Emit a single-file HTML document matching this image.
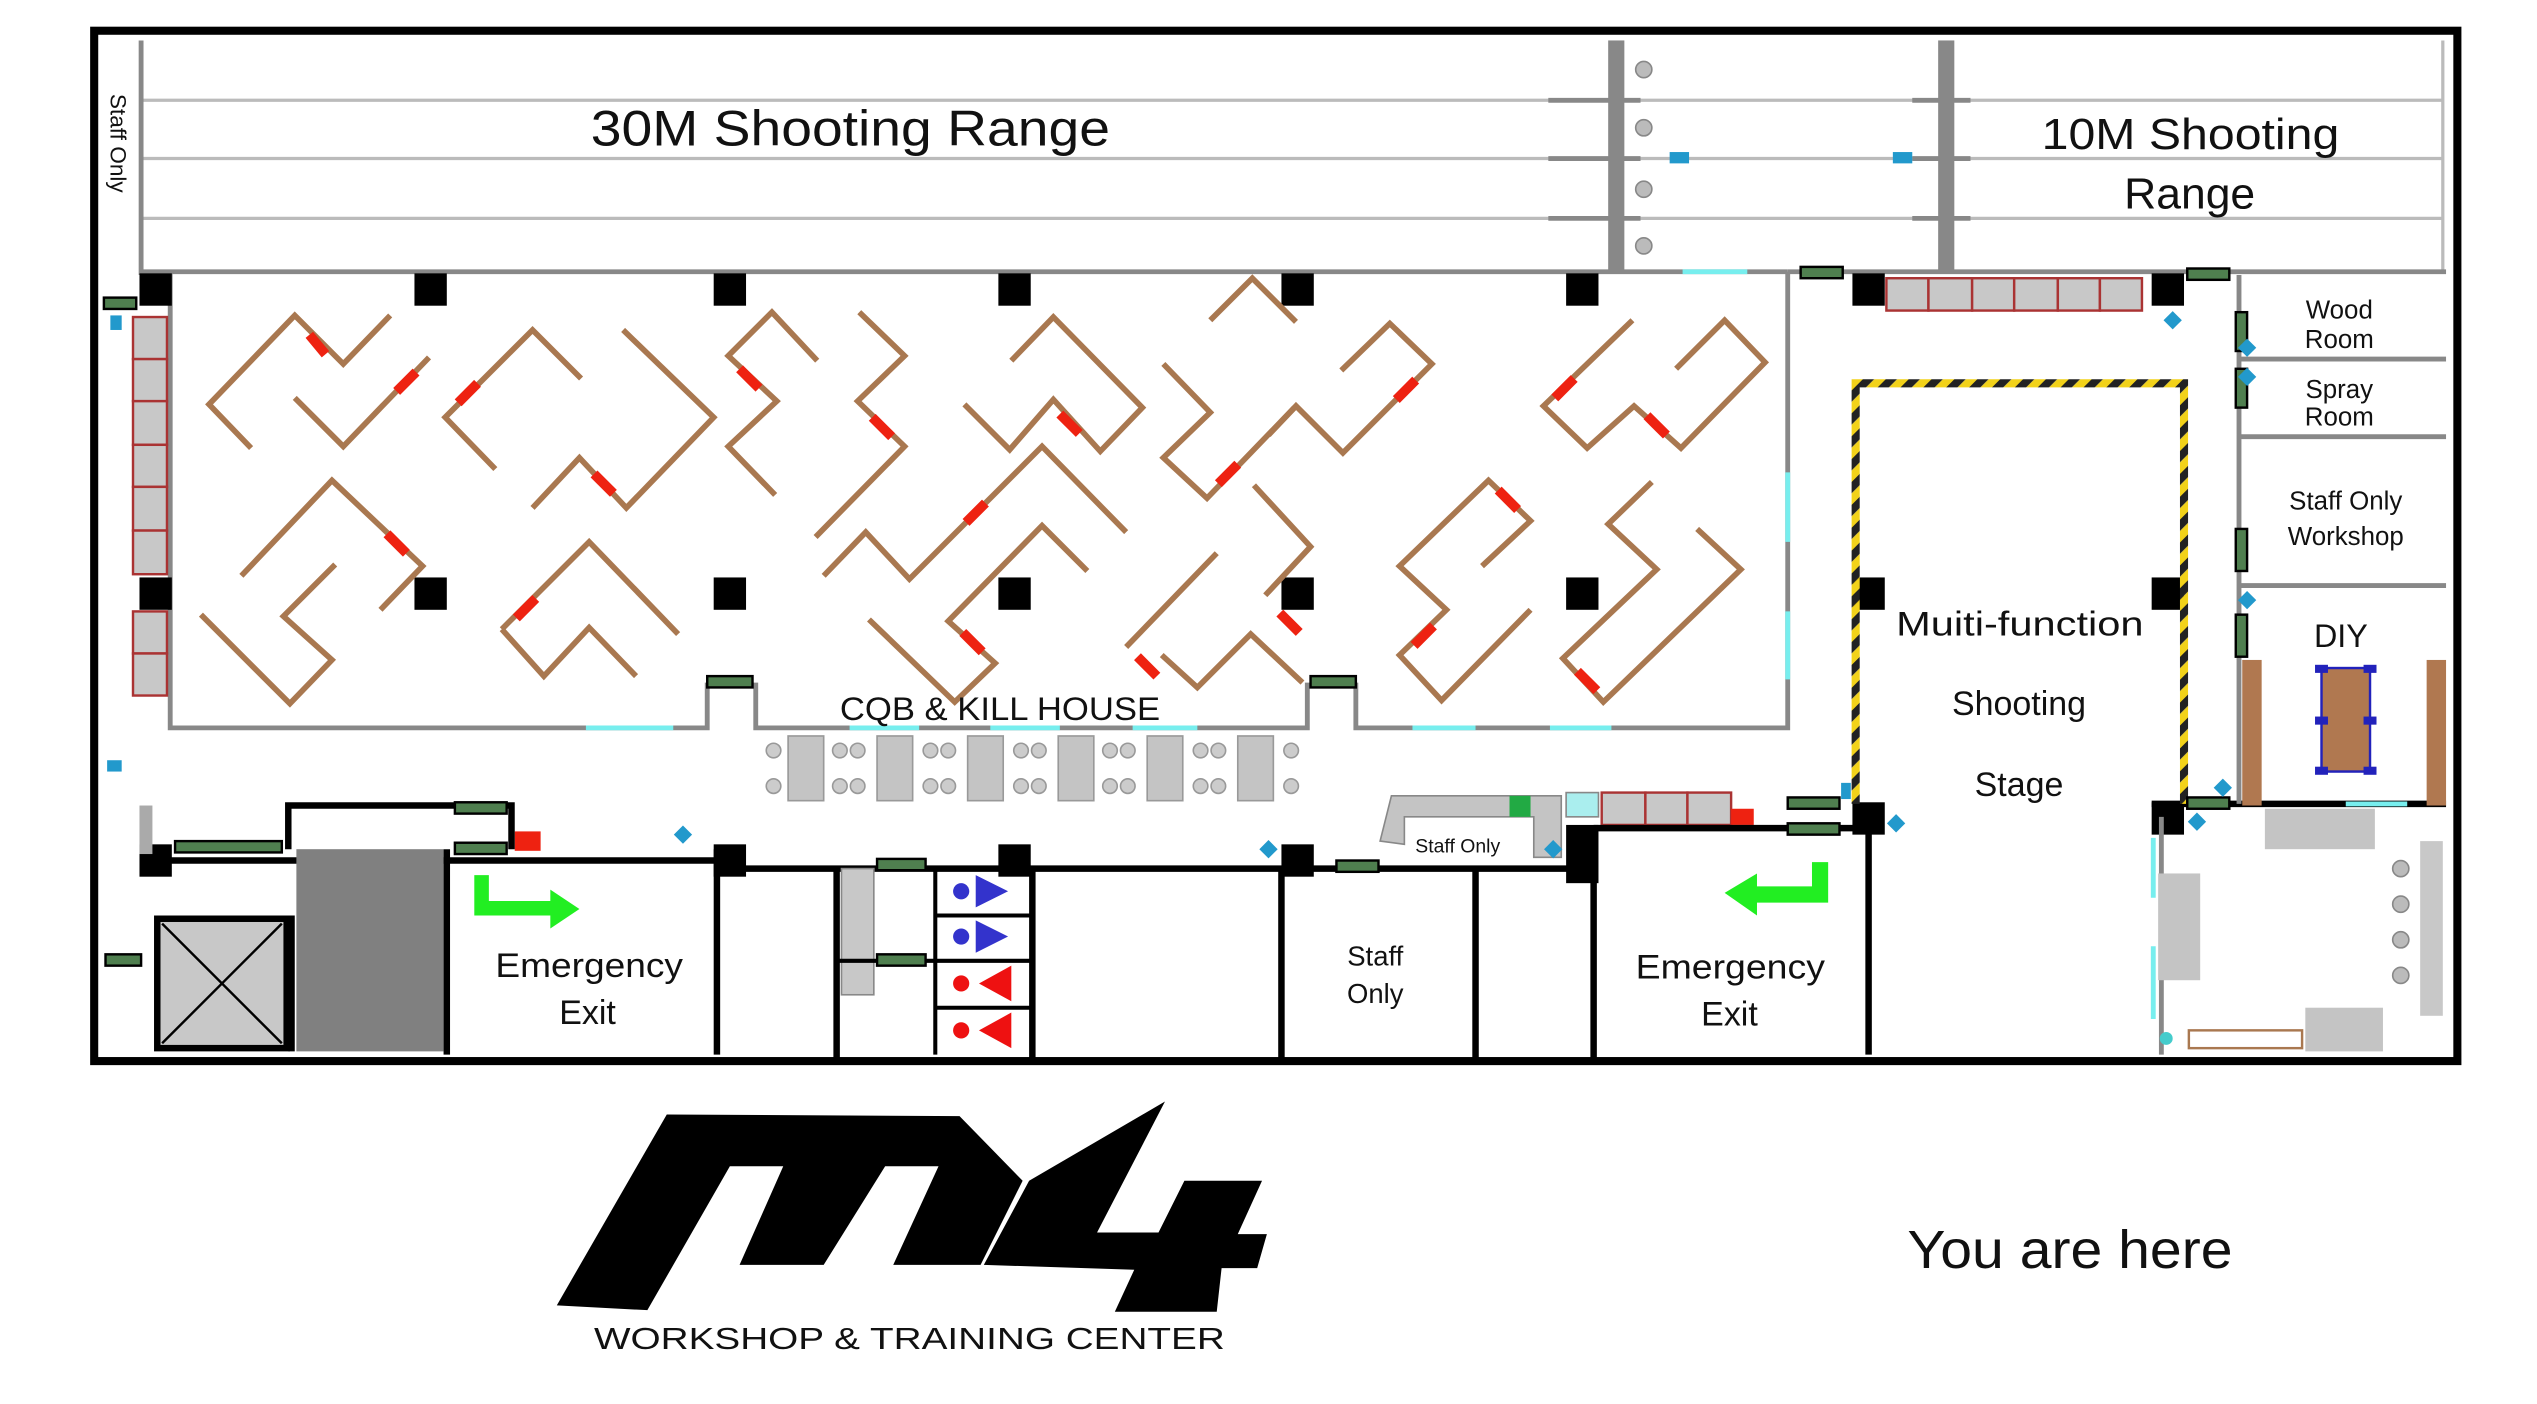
<!DOCTYPE html>
<html><head><meta charset="utf-8"><style>
html,body{margin:0;padding:0;background:#fff;width:2537px;height:1404px;overflow:hidden}
svg{display:block}
text{font-family:"Liberation Sans",sans-serif;fill:#111}
</style></head><body>
<svg width="2537" height="1404" viewBox="0 0 1568 868" xmlns="http://www.w3.org/2000/svg">
<defs>
<pattern id="hz" width="10" height="10" patternUnits="userSpaceOnUse" patternTransform="rotate(45)">
<rect width="5" height="10" fill="#222"/><rect x="5" width="5" height="10" fill="#f2d21a"/></pattern>
</defs>
<rect x="58" y="19" width="1461" height="637" fill="#fff" stroke="#000" stroke-width="5"/>
<g stroke="#bbb" stroke-width="2">
<line x1="87" y1="62" x2="1510" y2="62"/><line x1="87" y1="98" x2="1510" y2="98"/><line x1="87" y1="135" x2="1510" y2="135"/>
</g>
<line x1="87" y1="25" x2="87" y2="170" stroke="#888" stroke-width="3"/>
<line x1="1510" y1="25" x2="1510" y2="168" stroke="#bbb" stroke-width="2"/>
<line x1="87" y1="168" x2="1105" y2="168" stroke="#888" stroke-width="3"/>
<line x1="1105" y1="168" x2="1512" y2="168" stroke="#888" stroke-width="3"/>
<rect x="994" y="25" width="10" height="143" fill="#888"/>
<rect x="1198" y="25" width="10" height="143" fill="#888"/>
<g stroke="#888" stroke-width="3">
<line x1="957" y1="62" x2="1014" y2="62"/><line x1="957" y1="98" x2="1014" y2="98"/><line x1="957" y1="135" x2="1014" y2="135"/>
<line x1="1182" y1="62" x2="1218" y2="62"/><line x1="1182" y1="98" x2="1218" y2="98"/><line x1="1182" y1="135" x2="1218" y2="135"/>
</g>
<g fill="#bbb" stroke="#888"><circle cx="1016" cy="43" r="5"/><circle cx="1016" cy="79" r="5"/><circle cx="1016" cy="117" r="5"/><circle cx="1016" cy="152" r="5"/></g>
<line x1="1040" y1="168" x2="1080" y2="168" stroke="#7ee" stroke-width="3"/>
<text x="365" y="90" font-size="31" textLength="321" lengthAdjust="spacingAndGlyphs">30M Shooting Range</text>
<text x="1262" y="92" font-size="27" textLength="184" lengthAdjust="spacingAndGlyphs">10M Shooting</text>
<text x="1313" y="129" font-size="27" textLength="81" lengthAdjust="spacingAndGlyphs">Range</text>
<text transform="translate(68,58) rotate(90)" font-size="14">Staff Only</text>
<path d="M105 168 V450 H437 V422 M467 422 V450 H808 V422 M838 422 V450 H1105 V168" fill="none" stroke="#888" stroke-width="3"/>
<g stroke="#7ee" stroke-width="3"><line x1="362" y1="450" x2="416" y2="450"/><line x1="525" y1="450" x2="568" y2="450"/><line x1="612" y1="450" x2="655" y2="450"/><line x1="700" y1="450" x2="740" y2="450"/><line x1="873" y1="450" x2="912" y2="450"/><line x1="958" y1="450" x2="996" y2="450"/><line x1="1105" y1="292" x2="1105" y2="335"/><line x1="1105" y1="378" x2="1105" y2="420"/></g>
<g fill="#000">
<rect x="86" y="169" width="20" height="20"/><rect x="256" y="169" width="20" height="20"/><rect x="441" y="169" width="20" height="20"/><rect x="617" y="169" width="20" height="20"/><rect x="792" y="169" width="20" height="20"/><rect x="968" y="169" width="20" height="20"/>
<rect x="86" y="357" width="20" height="20"/><rect x="256" y="357" width="20" height="20"/><rect x="441" y="357" width="20" height="20"/><rect x="617" y="357" width="20" height="20"/><rect x="792" y="357" width="20" height="20"/><rect x="968" y="357" width="20" height="20"/>
<rect x="1145" y="169" width="20" height="20"/><rect x="1330" y="169" width="20" height="20"/>
<rect x="1145" y="357" width="20" height="20"/><rect x="1330" y="357" width="20" height="20"/>
<rect x="1145" y="496" width="20" height="20"/><rect x="1330" y="496" width="20" height="20"/>
<rect x="86" y="522" width="20" height="20"/><rect x="441" y="522" width="20" height="20"/><rect x="617" y="522" width="20" height="20"/><rect x="792" y="522" width="20" height="20"/><rect x="968" y="510" width="20" height="36"/>
</g>
<g fill="none" stroke="#a97850" stroke-width="3.5">
<polyline points="155,277 129,250 182,195 212,225 241,195"/>
<polyline points="182,246 212,276 265,221"/>
<polyline points="306,290 275,258 329,204 359,234"/>
<polyline points="385,204 441,258 387,314 358,283 329,314"/>
<polyline points="505,223 477,193 450,220 480,248 450,276 479,306"/>
<polyline points="531,193 559,220 530,248 559,276 504,332"/>
<polyline points="625,223 651,196 706,252 680,279 651,247 624,278 596,250"/>
<polyline points="509,356 535,329 562,358 644,276 696,329"/>
<polyline points="672,353 644,325 586,384 615,410 590,434 537,383"/>
<polyline points="719,225 748,255 719,283 746,308 800,252"/>
<polyline points="149,356 205,297 261,350 235,377"/>
<polyline points="207,349 175,381 205,408 179,435 124,380"/>
<polyline points="310,389 364,335 419,392"/>
<polyline points="310,389 336,418 364,388 393,418"/>
<polyline points="696,400 752,342"/>
<polyline points="718,405 740,425 773,392 805,422"/>
<polyline points="775,300 810,338 782,368"/>
<polyline points="748,198 774,172 801,199"/>
<polyline points="829,229 859,200 885,225 830,280 801,251 784,269"/>
<polyline points="1009,198 954,251 981,277 1010,251 1039,277 1091,224 1066,198 1036,228"/>
<polyline points="916,350 946,322 920,297 865,350 894,377 865,405 891,433 946,377"/>
<polyline points="1021,298 994,324 1024,352 966,407 991,434 1076,352 1049,327"/>
</g>
<g stroke="#e21" stroke-width="6">
<line x1="191" y1="207" x2="201" y2="219"/><line x1="245" y1="242" x2="257" y2="230"/><line x1="283" y1="249" x2="295" y2="237"/><line x1="367" y1="293" x2="379" y2="305"/><line x1="239" y1="330" x2="251" y2="342"/><line x1="319" y1="382" x2="331" y2="370"/><line x1="457" y1="228" x2="469" y2="240"/><line x1="539" y1="258" x2="551" y2="270"/><line x1="597" y1="323" x2="609" y2="311"/><line x1="595" y1="391" x2="607" y2="403"/><line x1="655" y1="256" x2="667" y2="268"/><line x1="703" y1="406" x2="715" y2="418"/><line x1="753" y1="299" x2="765" y2="287"/><line x1="791" y1="379" x2="803" y2="391"/><line x1="863" y1="247" x2="875" y2="235"/><line x1="961" y1="246" x2="973" y2="234"/><line x1="1018" y1="257" x2="1030" y2="269"/><line x1="926" y1="303" x2="938" y2="315"/><line x1="874" y1="399" x2="886" y2="387"/><line x1="975" y1="415" x2="987" y2="427"/>
</g>
<text x="519" y="445" font-size="20" textLength="198" lengthAdjust="spacingAndGlyphs">CQB &amp; KILL HOUSE</text>
<g fill="#c8c8c8" stroke="#a33" stroke-width="1.5">
<rect x="82" y="196" width="21" height="26"/><rect x="82" y="222" width="21" height="26"/><rect x="82" y="248" width="21" height="27"/><rect x="82" y="275" width="21" height="26"/><rect x="82" y="301" width="21" height="27"/><rect x="82" y="328" width="21" height="27"/>
<rect x="82" y="378" width="21" height="26"/><rect x="82" y="404" width="21" height="26"/>
<rect x="1166" y="172" width="26" height="20"/><rect x="1192" y="172" width="27" height="20"/><rect x="1219" y="172" width="26" height="20"/><rect x="1245" y="172" width="27" height="20"/><rect x="1272" y="172" width="26" height="20"/><rect x="1298" y="172" width="26" height="20"/>
<rect x="990" y="490" width="27" height="20"/><rect x="1017" y="490" width="26" height="20"/><rect x="1043" y="490" width="27" height="20"/>
</g>
<rect x="1070" y="500" width="14" height="10" fill="#e21"/>
<rect x="318" y="514" width="16" height="12" fill="#e21"/>
<g fill="#c4c4c4" stroke="#999">
<rect x="487" y="455" width="22" height="40"/><rect x="542" y="455" width="22" height="40"/><rect x="598" y="455" width="22" height="40"/><rect x="654" y="455" width="22" height="40"/><rect x="709" y="455" width="22" height="40"/><rect x="765" y="455" width="22" height="40"/>
</g>
<g fill="#ccc" stroke="#999">
<circle cx="478" cy="464" r="4.5"/><circle cx="478" cy="486" r="4.5"/><circle cx="519" cy="464" r="4.5"/><circle cx="530" cy="464" r="4.5"/><circle cx="519" cy="486" r="4.5"/><circle cx="530" cy="486" r="4.5"/>
<circle cx="575" cy="464" r="4.5"/><circle cx="586" cy="464" r="4.5"/><circle cx="575" cy="486" r="4.5"/><circle cx="586" cy="486" r="4.5"/>
<circle cx="631" cy="464" r="4.5"/><circle cx="642" cy="464" r="4.5"/><circle cx="631" cy="486" r="4.5"/><circle cx="642" cy="486" r="4.5"/>
<circle cx="686" cy="464" r="4.5"/><circle cx="697" cy="464" r="4.5"/><circle cx="686" cy="486" r="4.5"/><circle cx="697" cy="486" r="4.5"/>
<circle cx="742" cy="464" r="4.5"/><circle cx="753" cy="464" r="4.5"/><circle cx="742" cy="486" r="4.5"/><circle cx="753" cy="486" r="4.5"/>
<circle cx="798" cy="464" r="4.5"/><circle cx="798" cy="486" r="4.5"/>
</g>
<g fill="none" stroke="#000" stroke-width="4">
<path d="M95 532 H443 M443 537 H985"/>
<path d="M178 525 V498 H316 V525"/>
<path d="M97 568 H180 V650"/>
<path d="M276 525 V652 M443 525 V652"/>
<path d="M517 537 V655 M638 537 V655"/>
<path d="M792 537 V655 M912 537 V655"/>
<path d="M985 512 V655 M985 512 H1147 M1155 505 V652"/>
<path d="M1330 497 H1512"/>
</g>
<line x1="1336" y1="505" x2="1336" y2="652" stroke="#888" stroke-width="3"/>
<rect x="97" y="568" width="80" height="80" fill="#c8c8c8" stroke="#000" stroke-width="4"/>
<path d="M100 571 L174 645 M174 571 L100 645" stroke="#000" stroke-width="1.5"/>
<rect x="183" y="525" width="91" height="125" fill="#808080"/>
<rect x="86" y="498" width="8" height="30" fill="#aaa"/>
<rect x="520" y="537" width="20" height="78" fill="#c8c8c8" stroke="#888"/>
<g stroke="#000" stroke-width="2.5"><line x1="578" y1="537" x2="578" y2="652"/><line x1="578" y1="566" x2="638" y2="566"/><line x1="578" y1="594" x2="638" y2="594"/><line x1="578" y1="623" x2="638" y2="623"/><line x1="517" y1="594" x2="578" y2="594"/></g>
<g fill="#33c"><circle cx="594" cy="551" r="5"/><polygon points="603,541 623,551 603,561"/><circle cx="594" cy="579" r="5"/><polygon points="603,569 623,579 603,589"/></g>
<g fill="#e11"><circle cx="594" cy="608" r="5"/><polygon points="625,597 605,608 625,619"/><circle cx="594" cy="637" r="5"/><polygon points="625,626 605,637 625,648"/></g>
<path d="M293 541 V566 H340 V574 L358 562 L340 550 V557 H302 V541 Z" fill="#2e2"/>
<path d="M1130 533 V558 H1086 V566 L1066 552 L1086 540 V548 H1120 V533 Z" fill="#2e2"/>
<text x="306" y="604" font-size="21" textLength="116" lengthAdjust="spacingAndGlyphs">Emergency</text>
<text x="363" y="633" font-size="21" text-anchor="middle">Exit</text>
<text x="1011" y="605" font-size="21" textLength="117" lengthAdjust="spacingAndGlyphs">Emergency</text>
<text x="1069" y="634" font-size="21" text-anchor="middle">Exit</text>
<text x="850" y="597" font-size="17" text-anchor="middle">Staff</text>
<text x="850" y="620" font-size="17" text-anchor="middle">Only</text>
<path d="M853 520 L860 492 H965 V530 H948 V505 H868 V522 Z" fill="#c4c4c4" stroke="#888"/>
<rect x="933" y="492" width="13" height="13" fill="#2a4"/>
<rect x="968" y="490" width="20" height="15" fill="#aee" stroke="#888"/>
<text x="901" y="527" font-size="12" text-anchor="middle">Staff Only</text>
<path d="M1147 497 V237 H1350 V497" fill="none" stroke="url(#hz)" stroke-width="5"/>
<text x="1172" y="393" font-size="21" textLength="153" lengthAdjust="spacingAndGlyphs">Muiti-function</text>
<text x="1248" y="442" font-size="21" text-anchor="middle">Shooting</text>
<text x="1248" y="492" font-size="21" text-anchor="middle">Stage</text>
<g stroke="#888" stroke-width="3" fill="none">
<path d="M1384 170 V497 M1384 222 H1512 M1384 270 H1512 M1384 362 H1512"/>
</g>
<text x="1446" y="197" font-size="16" text-anchor="middle">Wood</text>
<text x="1446" y="215" font-size="16" text-anchor="middle">Room</text>
<text x="1446" y="246" font-size="16" text-anchor="middle">Spray</text>
<text x="1446" y="263" font-size="16" text-anchor="middle">Room</text>
<text x="1450" y="315" font-size="16" text-anchor="middle">Staff Only</text>
<text x="1450" y="337" font-size="16" text-anchor="middle">Workshop</text>
<text x="1447" y="400" font-size="20" text-anchor="middle">DIY</text>
<rect x="1386" y="408" width="12" height="90" fill="#b07850"/>
<rect x="1500" y="408" width="12" height="90" fill="#b07850"/>
<rect x="1435" y="413" width="30" height="64" fill="#b07850" stroke="#22b" stroke-width="1.5"/>
<g fill="#22b"><rect x="1431" y="411" width="8" height="5"/><rect x="1461" y="411" width="8" height="5"/><rect x="1431" y="443" width="8" height="5"/><rect x="1461" y="443" width="8" height="5"/><rect x="1431" y="474" width="8" height="5"/><rect x="1461" y="474" width="8" height="5"/></g>
<line x1="1450" y1="497" x2="1488" y2="497" stroke="#7ee" stroke-width="3"/>
<rect x="1400" y="500" width="68" height="25" fill="#c4c4c4"/>
<rect x="1334" y="540" width="26" height="66" fill="#c4c4c4"/>
<rect x="1496" y="520" width="14" height="108" fill="#c8c8c8"/>
<rect x="1425" y="623" width="48" height="27" fill="#c4c4c4"/>
<rect x="1353" y="637" width="70" height="11" fill="#fff" stroke="#a97850" stroke-width="1.5"/>
<g fill="#bbb" stroke="#888"><circle cx="1484" cy="537" r="5"/><circle cx="1484" cy="559" r="5"/><circle cx="1484" cy="581" r="5"/><circle cx="1484" cy="603" r="5"/></g>
<g stroke="#7ee" stroke-width="3"><line x1="1331" y1="518" x2="1331" y2="555"/><line x1="1331" y1="585" x2="1331" y2="630"/></g>
<circle cx="1339" cy="642" r="4" fill="#4cc"/>
<g fill="#4f7f4f" stroke="#000" stroke-width="1.5">
<rect x="64" y="184" width="20" height="7"/><rect x="1113" y="165" width="26" height="7"/><rect x="1352" y="166" width="26" height="7"/>
<rect x="1382" y="193" width="7" height="24"/><rect x="1382" y="228" width="7" height="24"/><rect x="1382" y="327" width="7" height="26"/><rect x="1382" y="380" width="7" height="26"/>
<rect x="437" y="418" width="28" height="7"/><rect x="810" y="418" width="28" height="7"/>
<rect x="108" y="520" width="66" height="7"/><rect x="281" y="496" width="32" height="7"/><rect x="281" y="521" width="32" height="7"/>
<rect x="65" y="590" width="22" height="7"/><rect x="542" y="531" width="30" height="7"/><rect x="542" y="590" width="30" height="7"/>
<rect x="826" y="532" width="26" height="7"/><rect x="1105" y="493" width="32" height="7"/><rect x="1105" y="509" width="32" height="7"/><rect x="1352" y="493" width="26" height="7"/>
</g>
<g fill="#29c">
<rect x="68" y="195" width="7" height="9"/><rect x="1032" y="94" width="12" height="7"/><rect x="1170" y="94" width="12" height="7"/>
<rect x="66" y="470" width="9" height="7"/><rect x="418" y="512" width="8" height="8" transform="rotate(45 422 516)"/><rect x="780" y="521" width="8" height="8" transform="rotate(45 784 525)"/>
<rect x="956" y="521" width="8" height="8" transform="rotate(45 960 525)"/><rect x="1138" y="484" width="6" height="10"/><rect x="1168" y="505" width="8" height="8" transform="rotate(45 1172 509)"/>
<rect x="1339" y="194" width="8" height="8" transform="rotate(45 1343 198)"/><rect x="1385" y="211" width="8" height="8" transform="rotate(45 1389 215)"/><rect x="1385" y="229" width="8" height="8" transform="rotate(45 1389 233)"/><rect x="1385" y="367" width="8" height="8" transform="rotate(45 1389 371)"/><rect x="1370" y="483" width="8" height="8" transform="rotate(45 1374 487)"/><rect x="1354" y="504" width="8" height="8" transform="rotate(45 1358 508)"/>
</g>
<polygon points="412,689 593,690 632,730 606,782 552,782 580,721 547,721 509,782 457,782 484,721 451,721 400,810 344,807" fill="#000"/>
<polygon points="720,681 636,730 608,782 701,785 689,811 752,811 755,784 777,784 783,763 765,763 780,730 732,730 716,762 678,762" fill="#000"/>
<text x="367" y="834" font-size="19" textLength="390" lengthAdjust="spacingAndGlyphs">WORKSHOP &amp; TRAINING CENTER</text>
<text x="1179" y="784" font-size="33" textLength="201" lengthAdjust="spacingAndGlyphs">You are here</text>
</svg>
</body></html>
